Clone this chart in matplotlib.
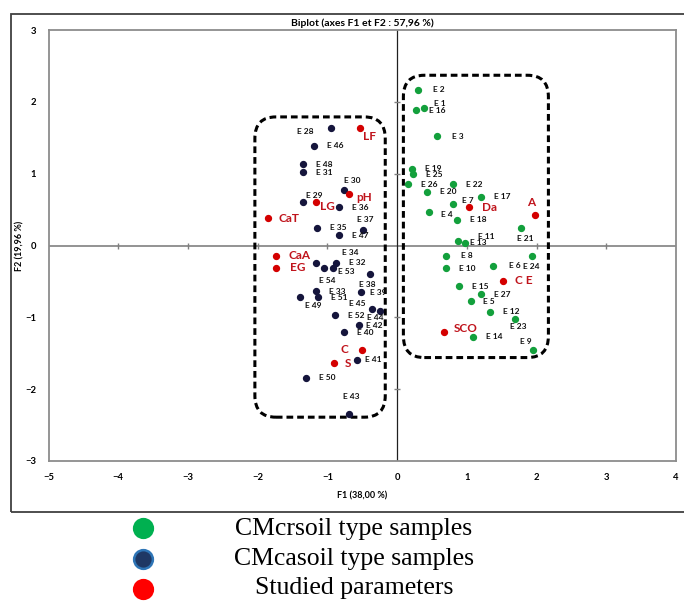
import matplotlib.pyplot as plt
from matplotlib.patches import FancyBboxPatch, Rectangle
from matplotlib.lines import Line2D

# CMcr soil samples (F1, F2 scores)
cr_names = ["E 1", "E 2", "E 3", "E 4", "E 5", "E 6", "E 7", "E 8", "E 9", "E 10",
            "E 11", "E 12", "E 13", "E 14", "E 15", "E 16", "E 17", "E 18", "E 19",
            "E 20", "E 21", "E 22", "E 23", "E 24", "E 25", "E 26", "E 27"]
cr_f1 = [0.39, 0.30, 0.57, 0.46, 1.06, 1.38, 0.80, 0.70, 1.95, 0.70,
         0.87, 1.33, 0.97, 1.09, 0.89, 0.27, 1.20, 0.86, 0.21,
         0.43, 1.78, 0.80, 1.69, 1.93, 0.23, 0.16, 1.20]
cr_f2 = [1.92, 2.17, 1.52, 0.46, -0.77, -0.28, 0.58, -0.14, -1.45, -0.32,
         0.06, -0.92, 0.04, -1.27, -0.57, 1.88, 0.68, 0.36, 1.07,
         0.75, 0.25, 0.85, -1.03, -0.15, 0.99, 0.85, -0.68]

# CMca soil samples
ca_names = ["E 28", "E 29", "E 30", "E 31", "E 32", "E 33", "E 34", "E 35", "E 36",
            "E 37", "E 38", "E 39", "E 40", "E 41", "E 42", "E 43", "E 44", "E 45",
            "E 46", "E 47", "E 48", "E 49", "E 50", "E 51", "E 52", "E 53", "E 54"]
ca_f1 = [-0.95, -1.35, -0.76, -1.35, -0.92, -1.16, -0.87, -1.15, -0.83,
         -0.49, -0.39, -0.52, -0.76, -0.57, -0.54, -0.69, -0.24, -0.36,
         -1.19, -0.83, -1.35, -1.39, -1.30, -1.13, -0.89, -1.05, -1.17]
ca_f2 = [1.63, 0.60, 0.77, 1.02, -0.31, -0.64, -0.24, 0.25, 0.53,
         0.22, -0.39, -0.65, -1.21, -1.59, -1.11, -2.34, -0.91, -0.88,
         1.39, 0.14, 1.13, -0.72, -1.84, -0.72, -0.97, -0.31, -0.25]

# studied parameters
par_names = ["LF", "pH", "LG", "CaT", "CaA", "EG", "C", "S", "Da", "A", "C E", "SCO"]
par_f1 = [-0.53, -0.69, -1.17, -1.85, -1.73, -1.73, -0.50, -0.90, 1.03, 1.98, 1.52, 0.67]
par_f2 = [1.63, 0.72, 0.60, 0.38, -0.14, -0.31, -1.46, -1.64, 0.53, 0.42, -0.49, -1.21]

# label offsets in pixels (default: right of the point)
offsets = {
    "E 28": (-26, -3), "E 30": (8, 10), "E 29": (11, 7), "E 37": (2, 10),
    "E 34": (14, 10), "E 32": (24, 5), "E 53": (22, -4), "E 54": (12, -17),
    "E 38": (-3, -11), "E 49": (13, -8), "E 39": (17, 0), "E 45": (-15, 5),
    "E 44": (-5, -7), "E 42": (15, 0), "E 41": (16, 0), "E 43": (2, 17),
    "E 1": (16, 4), "E 7": (15, 3), "E 21": (4, -11), "E 11": (28, 5),
    "E 13": (14, 0), "E 24": (0, -10), "E 23": (3, -7), "E 9": (-7, 8),
    "E 5": (18, -1), "E 4": (18, -2),
    "LF": (9, -8), "pH": (15, -4), "LG": (12, -4), "C": (-18, 1), "S": (14, 0),
    "A": (-4, 13), "SCO": (22, 4), "CaA": (23, 0),
}

green = "#13a03c"
navy = "#15153c"
red = "#d40000"
lab_red = "#c0141c"

fig = plt.figure(figsize=(6.84, 6.01), dpi=100)
ax = fig.add_axes([48.5 / 684, 140 / 601, 627.5 / 684, 431 / 601])

ax.axhline(0, color="#808080", lw=1.2, zorder=1)
ax.axvline(0, color="#202020", lw=0.9, zorder=1)
ax.plot([t for t in range(-4, 4) if t != 0], [0] * 7, "|", color="#808080", ms=4, zorder=1)
ax.plot([0] * 4, [t for t in range(-2, 3) if t != 0], "_", color="#808080", ms=4, zorder=1)

ax.scatter(cr_f1, cr_f2, s=18, color=green, zorder=3)
ax.scatter(ca_f1, ca_f2, s=18, color=navy, zorder=3)
ax.scatter(par_f1, par_f2, s=18, color=red, zorder=3)

for names, xs, ys in [(cr_names, cr_f1, cr_f2), (ca_names, ca_f1, ca_f2)]:
    for n, x, y in zip(names, xs, ys):
        ax.annotate(n, (x, y), xytext=offsets.get(n, (21, 0)), textcoords="offset pixels",
                    ha="center", va="center", fontsize=6.0, fontweight="bold",
                    family="Lato", color="#111111")
for n, x, y in zip(par_names, par_f1, par_f2):
    ax.annotate(n, (x, y), xytext=offsets.get(n, (21, 0)), textcoords="offset pixels",
                ha="center", va="center", fontsize=8.5, fontweight="bold",
                family="Lato", color=lab_red)

# dashed group boxes
for x0, x1, y0, y1 in [(-2.04, -0.17, -2.39, 1.79), (0.09, 2.17, -1.56, 2.37)]:
    ax.add_patch(FancyBboxPatch((x0, y0), x1 - x0, y1 - y0,
                                boxstyle="round,pad=0,rounding_size=0.3",
                                fill=False, ec="black", lw=2.2,
                                linestyle=(0, (2.2, 1.3)), zorder=2))

ax.set_xlim(-5, 4)
ax.set_ylim(-3, 3)
ax.set_xticks(range(-5, 5))
ax.set_yticks(range(-3, 4))
ax.tick_params(length=0, labelsize=6.8, pad=9)
for lbl in ax.get_xticklabels() + ax.get_yticklabels():
    lbl.set_fontweight("bold")
    lbl.set_family("Lato")
for s in ax.spines.values():
    s.set_color("#8c8c8c")
    s.set_linewidth(1.3)

ax.set_title("Biplot (axes F1 et F2 : 57,96 %)", fontsize=7.5, fontweight="bold",
             family="Lato", pad=3)
ax.set_xlabel("F1 (38,00 %)", fontsize=6.5, fontweight="bold", family="Lato")
ax.set_ylabel("F2 (19,96 %)", fontsize=6.5, fontweight="bold", family="Lato")
ax.xaxis.set_label_coords(0.5, -0.07)
ax.yaxis.set_label_coords(-0.038, 0.5)

# outer chart frame
fig.add_artist(Rectangle((11 / 684, 89 / 601), 1.0, 498 / 601, transform=fig.transFigure,
                         fill=False, ec="#404040", lw=1.3))

# legend below the chart
leg_items = [("CMcrsoil type samples", "#00b050", "#00b050"),
             ("CMcasoil type samples", "#1f3864", "#2e75b6"),
             ("Studied parameters", "#ff0000", "#ff0000")]
for i, (txt, fc, ec) in enumerate(leg_items):
    yf = 1 - (528 + 30.5 * i) / 601
    fig.add_artist(Line2D([143 / 684], [yf], transform=fig.transFigure, marker="o",
                          ms=13.5, mfc=fc, mec=ec, mew=1.8, ls="none"))
    fig.text(354 / 684, 1 - (529 + 29.5 * i) / 601, txt, ha="center", va="center",
             fontsize=18.5, family="Liberation Serif")

fig.savefig("out.png", dpi=100)
